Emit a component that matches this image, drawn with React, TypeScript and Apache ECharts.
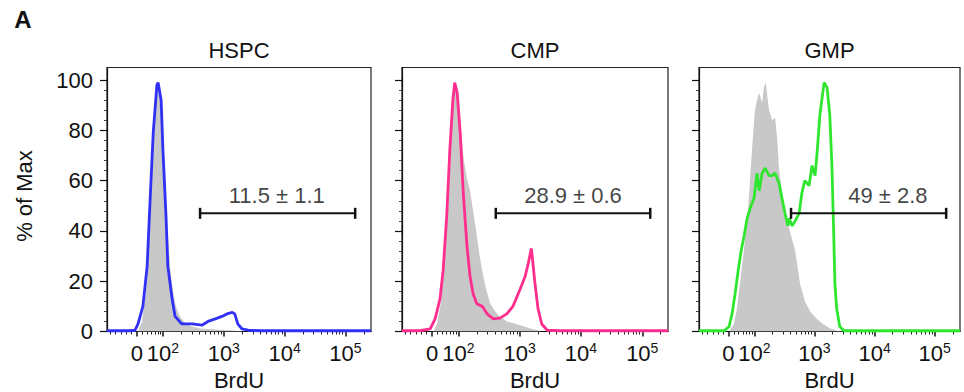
import { useEffect, useRef } from "react";
import * as echarts from "echarts";

// ---------- data (x = BrdU on biexponential display scale, 2 = 10^2 ... 5 = 10^5; y = % of Max)
const panelTitles = ["HSPC", "CMP", "GMP"];
const lineColors = ["#3030f6", "#ff2e8e", "#2fe62f"];
const controlColor = "#c8c8c8";

const hspcControlX = [1.59, 1.655, 1.72, 1.77, 1.82, 1.87, 1.92, 1.97, 2.02, 2.07, 2.12, 2.165, 2.21, 2.28, 2.36, 2.48, 2.61, 2.86, 3.1, 3.35];
const hspcControlY = [0, 4, 16, 40, 70, 90, 96, 90, 68, 42, 25, 16, 10, 6, 3.5, 2, 1.2, 0.8, 0.5, 0];
const hspcBrdUX = [1.08, 1.46, 1.54, 1.59, 1.67, 1.74, 1.79, 1.84, 1.9, 1.92, 1.97, 2.0, 2.05, 2.08, 2.15, 2.2, 2.31, 2.48, 2.64, 2.74, 2.86, 2.97, 3.05, 3.14, 3.18, 3.23, 3.3, 3.4, 3.6, 5.42];
const hspcBrdUY = [0.3, 0.3, 0.5, 3, 10, 26, 53, 79, 98, 99, 92, 72, 46, 26, 13, 6, 3, 3, 2.5, 4, 5, 6, 7, 7.6, 7, 3, 1, 0.5, 0.3, 0.3];

const cmpControlX = [1.59, 1.65, 1.72, 1.78, 1.85, 1.9, 1.94, 1.99, 2.04, 2.09, 2.14, 2.19, 2.24, 2.29, 2.34, 2.39, 2.45, 2.52, 2.63, 2.79, 3.01, 3.17, 3.33];
const cmpControlY = [0, 3, 12, 35, 70, 90, 97, 92, 80, 68, 61, 56, 48, 40, 31, 24, 17, 11, 7, 4, 2.5, 1.2, 0.3];
const cmpBrdUX = [1.08, 1.37, 1.54, 1.62, 1.7, 1.75, 1.81, 1.86, 1.91, 1.94, 1.98, 2.03, 2.08, 2.14, 2.19, 2.24, 2.3, 2.39, 2.47, 2.57, 2.68, 2.79, 2.89, 3.01, 3.09, 3.14, 3.19, 3.2, 3.25, 3.3, 3.36, 3.45, 3.66, 5.42];
const cmpBrdUY = [0.3, 0.3, 1, 5, 13, 24, 46, 72, 92, 99, 95, 79, 55, 34, 22, 15, 11, 10, 7, 5, 5.3, 7, 10, 17, 22, 27, 33, 31, 19, 9, 3, 0.5, 0.3, 0.3];

const gmpControlX = [1.58, 1.66, 1.71, 1.76, 1.83, 1.895, 1.96, 2.01, 2.045, 2.08, 2.13, 2.16, 2.19, 2.21, 2.245, 2.295, 2.345, 2.38, 2.41, 2.48, 2.54, 2.59, 2.68, 2.76, 2.84, 2.93, 3.04, 3.14, 3.255, 3.375, 3.51];
const gmpControlY = [0, 3, 9, 19, 33, 48, 72, 88, 92, 95, 91, 97, 99, 95, 88, 84, 85, 77, 65, 52, 45, 40, 32, 19, 12, 8, 5, 3, 1.3, 0.3, 0];
const gmpBrdUX = [1.08, 1.5, 1.58, 1.63, 1.68, 1.73, 1.78, 1.83, 1.88, 1.93, 1.995, 2.045, 2.08, 2.13, 2.18, 2.245, 2.295, 2.345, 2.41, 2.46, 2.51, 2.56, 2.58, 2.63, 2.68, 2.745, 2.79, 2.84, 2.91, 2.96, 3.01, 3.04, 3.09, 3.16, 3.21, 3.255, 3.29, 3.32, 3.34, 3.37, 3.42, 3.49, 5.42];
const gmpBrdUY = [0.3, 0.3, 2, 7, 15, 24, 32, 38, 45, 49, 53, 63, 56, 63, 65, 62, 62, 63, 59, 53, 47, 42, 45, 42, 44, 47, 55, 60, 58, 66, 62, 70, 86, 99, 97, 86, 66, 39, 19, 9, 2, 0.3, 0.3];

const gateStart = [2.61, 2.61, 2.61];
const gateEnd = [5.16, 5.13, 5.19];
const gateLevel = [47, 47, 47];
const gateLabels = ["11.5 ± 1.1", "28.9 ± 0.6", "49 ± 2.8"];
const gateLabelX = [3.87, 3.87, 4.22];
const gateLabelY = [54, 54, 54];

// axis ticks
const xTickValues = [1.57, 2, 3, 4, 5];
const xTickBase = ["0", "10", "10", "10", "10"];
const xTickExp = ["", "2", "3", "4", "5"];
const xMinorTickValues = [
  1.13, 1.22, 1.31, 1.4, 1.48, 1.66, 1.74, 1.81, 1.87, 1.92, 1.96,
  2.301, 2.477, 2.602, 2.699, 2.778, 2.845, 2.903, 2.954,
  3.301, 3.477, 3.602, 3.699, 3.778, 3.845, 3.903, 3.954,
  4.301, 4.477, 4.602, 4.699, 4.778, 4.845, 4.903, 4.954,
  5.301,
];
const yTickValues = [0, 20, 40, 60, 80, 100];
const yMinorTickValues = [4, 8, 12, 16, 24, 28, 32, 36, 44, 48, 52, 56, 64, 68, 72, 76, 84, 88, 92, 96];

const X_MIN = 1.08;
const X_MAX = 5.42;
const Y_MIN = 0;
const Y_MAX = 105;

const FONT = '"Liberation Sans", Arial, Helvetica, sans-serif';
const FS = 22;

const zip = (xs: number[], ys: number[]) => xs.map((x, i) => [x, ys[i]]);

const panelsData = [
  { cx: hspcControlX, cy: hspcControlY, bx: hspcBrdUX, by: hspcBrdUY },
  { cx: cmpControlX, cy: cmpControlY, bx: cmpBrdUX, by: cmpBrdUY },
  { cx: gmpControlX, cy: gmpControlY, bx: gmpBrdUX, by: gmpBrdUY },
];

const gridLefts = [107, 402, 699];
const gridWidths = [264, 266, 261];
const GRID_TOP = 67.5;
const GRID_HEIGHT = 264;

function buildOption() {
  const grid: any[] = [];
  const xAxis: any[] = [];
  const yAxis: any[] = [];
  const series: any[] = [];
  const graphic: any[] = [];

  panelsData.forEach((p, i) => {
    grid.push({
      left: gridLefts[i],
      top: GRID_TOP,
      width: gridWidths[i],
      height: GRID_HEIGHT,
      show: true,
      borderColor: "#222",
      borderWidth: 1.2,
      backgroundColor: "transparent",
      containLabel: false,
      outerBoundsMode: "none",
    });
    xAxis.push({
      type: "value",
      gridIndex: i,
      min: X_MIN,
      max: X_MAX,
      position: "bottom",
      axisLine: { show: true, onZero: false, lineStyle: { color: "#111", width: 1.2 } },
      axisTick: { show: true, customValues: xTickValues, length: 5, lineStyle: { color: "#111", width: 1.5 } },
      axisLabel: {
        show: true,
        customValues: xTickValues,
        margin: 9,
        formatter: (v: number) => {
          const k = xTickValues.findIndex((t) => Math.abs(t - v) < 1e-6);
          if (k < 0) return "";
          return xTickExp[k] ? `{b|${xTickBase[k]}}{s|${xTickExp[k]}}` : `{b|${xTickBase[k]}}`;
        },
        rich: {
          b: { fontSize: FS, fontFamily: FONT, color: "#111", lineHeight: 26 },
          s: { fontSize: 14, fontFamily: FONT, color: "#111", lineHeight: 15, verticalAlign: "top" },
        },
      },
      splitLine: { show: false },
      name: "BrdU",
      nameLocation: "middle",
      nameGap: 33,
      nameTextStyle: { fontSize: FS, fontFamily: FONT, color: "#111" },
    });
    xAxis.push({
      type: "value",
      gridIndex: i,
      min: X_MIN,
      max: X_MAX,
      position: "bottom",
      axisLine: { show: false, onZero: false },
      axisTick: { show: true, customValues: xMinorTickValues, length: 3, lineStyle: { color: "#222", width: 1 } },
      axisLabel: { show: false },
      splitLine: { show: false },
    });
    yAxis.push({
      type: "value",
      gridIndex: i,
      min: Y_MIN,
      max: Y_MAX,
      position: "left",
      axisLine: { show: true, onZero: false, lineStyle: { color: "#111", width: 1.2 } },
      axisTick: { show: true, customValues: yTickValues, length: 7, lineStyle: { color: "#111", width: 1.2 } },
      axisLabel: {
        show: i === 0,
        customValues: yTickValues,
        margin: 14,
        fontSize: FS,
        fontFamily: FONT,
        color: "#111",
      },
      splitLine: { show: false },
    });
    yAxis.push({
      type: "value",
      gridIndex: i,
      min: Y_MIN,
      max: Y_MAX,
      position: "left",
      axisLine: { show: false, onZero: false },
      axisTick: { show: true, customValues: yMinorTickValues, length: 3, lineStyle: { color: "#444", width: 1 } },
      axisLabel: { show: false },
      splitLine: { show: false },
    });

    const xi = 2 * i;
    const yi = 2 * i;
    series.push({
      type: "line",
      xAxisIndex: xi,
      yAxisIndex: yi,
      data: zip(p.cx, p.cy),
      symbol: "none",
      lineStyle: { width: 0, opacity: 0 },
      itemStyle: { color: controlColor },
      areaStyle: { color: controlColor, opacity: 1 },
      z: 2,
      silent: true,
    });
    series.push({
      type: "line",
      xAxisIndex: xi,
      yAxisIndex: yi,
      data: zip(p.bx, p.by),
      symbol: "none",
      lineStyle: { color: lineColors[i], width: 2.8 },
      itemStyle: { color: lineColors[i] },
      z: 3,
      silent: true,
    });
    series.push({
      type: "line",
      xAxisIndex: xi,
      yAxisIndex: yi,
      data: [
        [gateStart[i], gateLevel[i]],
        [gateEnd[i], gateLevel[i]],
      ],
      symbol: "rect",
      symbolSize: [2.5, 11],
      showSymbol: true,
      lineStyle: { color: "#111", width: 2 },
      itemStyle: { color: "#111" },
      z: 4,
      silent: true,
    });
    series.push({
      type: "scatter",
      xAxisIndex: xi,
      yAxisIndex: yi,
      data: [[gateLabelX[i], gateLabelY[i]]],
      symbolSize: 0,
      label: {
        show: true,
        position: "inside",
        formatter: gateLabels[i],
        fontSize: FS,
        fontFamily: FONT,
        color: "#111",
      },
      z: 5,
      silent: true,
    });

    graphic.push({
      type: "text",
      x: gridLefts[i] + gridWidths[i] / 2,
      y: 50,
      style: {
        text: panelTitles[i],
        font: `${FS}px ${FONT}`,
        fill: "#111",
        align: "center",
        verticalAlign: "middle",
        textAlign: "center",
        textVerticalAlign: "middle",
      },
    });
  });

  graphic.push({
    type: "text",
    x: 23,
    y: 19,
    style: {
      text: "A",
      font: `bold 24px ${FONT}`,
      fill: "#111",
      align: "center",
      verticalAlign: "middle",
      textAlign: "center",
      textVerticalAlign: "middle",
    },
  });
  graphic.push({
    type: "text",
    x: 24,
    y: 196,
    rotation: Math.PI / 2,
    style: {
      text: "% of Max",
      font: `${FS}px ${FONT}`,
      fill: "#111",
      align: "center",
      verticalAlign: "middle",
      textAlign: "center",
      textVerticalAlign: "middle",
    },
  });

  return {
    animation: false,
    backgroundColor: "#ffffff",
    grid,
    xAxis,
    yAxis,
    series,
    graphic,
  };
}

export default function App() {
  const ref = useRef<HTMLDivElement>(null);
  useEffect(() => {
    if (!ref.current) return;
    const chart = echarts.init(ref.current, undefined, { renderer: "svg" });
    chart.setOption(buildOption() as any);
    return () => chart.dispose();
  }, []);
  return (
    <div
      ref={ref}
      style={{ position: "fixed", left: 0, top: 0, width: 964, height: 392, background: "#fff" }}
    />
  );
}
